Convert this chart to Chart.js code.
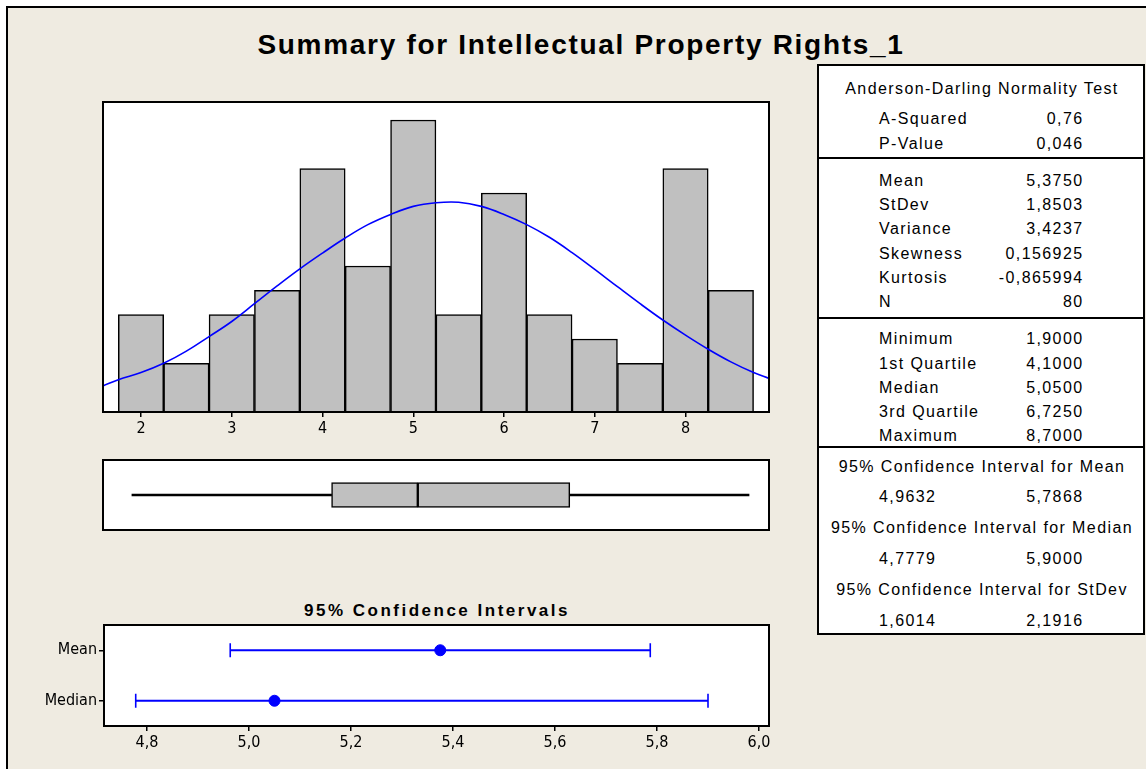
<!DOCTYPE html>
<html>
<head>
<meta charset="utf-8">
<script src="https://cdn.jsdelivr.net/npm/chart.js@4.4.1/dist/chart.umd.min.js"></script>
<style>
  html, body { margin:0; padding:0; background:#ffffff; }
  body { width:1146px; height:769px; position:relative; overflow:hidden; }
  #frame { position:absolute; left:6px; top:6px; width:1150px; height:770px; background:#EFEBE1;
           border-left:2px solid #000; border-top:2px solid #000; }
  canvas { position:absolute; }
  .title { position:absolute; left:0; top:28px; width:1162px; text-align:center;
           font-family:"Liberation Sans", Arial, sans-serif; font-weight:bold; font-size:28px; letter-spacing:1.7px; line-height:34px; color:#000; }
  .subtitle { position:absolute; left:237px; top:601px; width:400px; text-align:center;
           font-family:"Liberation Sans", Arial, sans-serif; font-weight:bold; font-size:17px; letter-spacing:2.5px; line-height:20px; color:#000; }
  #table { position:absolute; left:817px; top:64px; width:324px; height:567px; background:#fff; border:2px solid #000; }
  .sep { position:absolute; left:0; width:324px; height:0; border-top:2px solid #000; }
  .t { position:absolute; font-family:"Liberation Sans", Arial, sans-serif; font-size:16px; letter-spacing:1.4px;
       line-height:20px; height:20px; color:#000; white-space:nowrap; }
</style>
</head>
<body>
<div id="frame"></div>
<div class="title">Summary for Intellectual Property Rights_1</div>
<canvas id="hist" width="672" height="340" style="left:100px; top:100px;"></canvas>
<canvas id="box" width="672" height="74" style="left:100px; top:458px;"></canvas>
<div class="subtitle">95% Confidence Intervals</div>
<canvas id="ci" width="742" height="131" style="left:30px; top:623px;"></canvas>
<div id="table"></div>

<script>
// ---------------- data ----------------
const BIN_CENTERS = [2, 2.5, 3, 3.5, 4, 4.5, 5, 5.5, 6, 6.5, 7, 7.5, 8, 8.5];
const BIN_COUNTS  = [4, 2, 4, 5, 10, 6, 12, 4, 9, 4, 3, 2, 10, 5];
const CURVE_X = [1.58, 1.75, 2.0, 2.25, 2.5, 2.75, 3.0, 3.25, 3.5, 3.75, 4.0, 4.25, 4.5, 4.75, 5.0, 5.25,
                 5.5, 5.75, 6.0, 6.25, 6.5, 6.75, 7.0, 7.25, 7.5, 7.75, 8.0, 8.25, 8.5, 8.75, 8.92];
const CURVE_Y = [1.07, 1.33, 1.62, 2.0, 2.5, 3.1, 3.72, 4.45, 5.18, 5.88, 6.53, 7.15, 7.7, 8.12, 8.45, 8.6,
                 8.62, 8.45, 8.12, 7.7, 7.18, 6.55, 5.86, 5.15, 4.45, 3.78, 3.16, 2.58, 2.06, 1.62, 1.38];
const HIST_TICKS = [2, 3, 4, 5, 6, 7, 8];
const FIVE_NUM = [1.9, 4.1, 5.05, 6.725, 8.7]; // min, Q1, median, Q3, max
const CI_LABELS = ['Mean', 'Median'];
const CI_LOW    = [4.9632, 4.7779];
const CI_HIGH   = [5.7868, 5.9000];
const CI_POINT  = [5.375, 5.05];
const CI_TICKS  = [4.8, 5.0, 5.2, 5.4, 5.6, 5.8, 6.0];

const AD_ROWS    = [['A-Squared', '0,76'], ['P-Value', '0,046']];
const MOM_ROWS   = [['Mean', '5,3750'], ['StDev', '1,8503'], ['Variance', '3,4237'],
                    ['Skewness', '0,156925'], ['Kurtosis', '-0,865994'], ['N', '80']];
const QUANT_ROWS = [['Minimum', '1,9000'], ['1st Quartile', '4,1000'], ['Median', '5,0500'],
                    ['3rd Quartile', '6,7250'], ['Maximum', '8,7000']];
const CI_TABLE   = [['95% Confidence Interval for Mean', '4,9632', '5,7868'],
                    ['95% Confidence Interval for Median', '4,7779', '5,9000'],
                    ['95% Confidence Interval for StDev', '1,6014', '2,1916']];

// ---------------- helpers ----------------
const NARROW = '"Liberation Sans Narrow", "DejaVu Sans Condensed", "Arial Narrow", sans-serif';
Chart.defaults.font.family = NARROW;
Chart.defaults.color = '#000';
const comma = v => String(v).replace('.', ',');

const plotBox = {
  id: 'plotBox',
  beforeDatasetsDraw(chart) {
    const a = chart.chartArea, c = chart.ctx;
    c.save(); c.fillStyle = '#fff'; c.fillRect(a.left, a.top, a.right - a.left, a.bottom - a.top); c.restore();
  },
  afterDraw(chart) {
    const a = chart.chartArea, c = chart.ctx;
    c.save(); c.strokeStyle = '#000'; c.lineWidth = 2;
    c.strokeRect(a.left, a.top, a.right - a.left, a.bottom - a.top); c.restore();
  }
};

const HX_MIN = 1.5813, HX_MAX = 8.920;
const common = { responsive:false, animation:false, devicePixelRatio:1,
  plugins:{ legend:{display:false}, tooltip:{enabled:false} } };

// ---------------- histogram ----------------
new Chart(document.getElementById('hist'), {
  type: 'bar',
  data: {
    datasets: [
      { type:'line', order:1, data: CURVE_X.map((x, i) => ({x, y: CURVE_Y[i]})),
        borderColor:'#0000FF', borderWidth:1.6, pointRadius:0, tension:0.4, fill:false },
      { type:'bar', order:2, data: BIN_CENTERS.map((x, i) => ({x, y: BIN_COUNTS[i]})),
        backgroundColor:'#C0C0C0', borderColor:'#000', borderWidth:1.5,
        barPercentage:1, categoryPercentage:1 }
    ]
  },
  options: { ...common,
    layout:{ autoPadding:false, padding:{ left:3, right:3, top:2, bottom:0 } },
    scales: {
      x: { type:'linear', min:HX_MIN, max:HX_MAX, offset:false,
           afterBuildTicks: s => { s.ticks = HIST_TICKS.map(v => ({value:v})); },
           afterFit: s => { s.height = 28; s.paddingLeft = 0; s.paddingRight = 0; },
           ticks:{ font:{size:16}, padding:2, maxRotation:0, autoSkip:false, callback: v => comma(v) },
           grid:{ offset:false, drawOnChartArea:false, drawTicks:true, tickLength:5, color:'#000', lineWidth:1.5 },
           border:{ display:false } },
      y: { display:false, min:0, max:12.74 }
    }
  },
  plugins:[plotBox]
});

// ---------------- boxplot ----------------
new Chart(document.getElementById('box'), {
  type: 'bar',
  data: {
    labels: [''],
    datasets: [
      { data:[[FIVE_NUM[0], FIVE_NUM[1]]], backgroundColor:'#000', borderWidth:0, barThickness:1.6, grouped:false },
      { data:[[FIVE_NUM[3], FIVE_NUM[4]]], backgroundColor:'#000', borderWidth:0, barThickness:1.6, grouped:false },
      { data:[[FIVE_NUM[1], FIVE_NUM[2]]], backgroundColor:'#C0C0C0', borderColor:'#000', borderWidth:1.5,
        borderSkipped:false, barThickness:25, grouped:false },
      { data:[[FIVE_NUM[2], FIVE_NUM[3]]], backgroundColor:'#C0C0C0', borderColor:'#000', borderWidth:1.5,
        borderSkipped:false, barThickness:25, grouped:false }
    ]
  },
  options: { ...common, indexAxis:'y',
    layout:{ autoPadding:false, padding:{ left:3, right:3, top:2, bottom:2 } },
    scales: {
      x: { type:'linear', display:false, min:HX_MIN, max:HX_MAX },
      y: { display:false }
    }
  },
  plugins:[plotBox]
});

// ---------------- confidence intervals ----------------
const CX_MIN = 4.7157, CX_MAX = 6.0196;
const ciDatasets = CI_LABELS.map((lab, i) => ({
  data:[{x:CI_LOW[i], y:lab}, {x:CI_HIGH[i], y:lab}],
  borderColor:'#0000FF', borderWidth:2, pointStyle:'line', pointRadius:7, pointRotation:90,
  pointBorderColor:'#0000FF', pointBorderWidth:1.6, tension:0
}));
ciDatasets.push({
  data: CI_LABELS.map((lab, i) => ({x:CI_POINT[i], y:lab})),
  showLine:false, pointRadius:5.5, pointBackgroundColor:'#0000FF', pointBorderColor:'#0000FF', pointBorderWidth:1
});
new Chart(document.getElementById('ci'), {
  type: 'line',
  data: { labels: CI_LABELS, datasets: ciDatasets },
  options: { ...common,
    layout:{ autoPadding:false, padding:{ left:0, right:3, top:2, bottom:0 } },
    scales: {
      x: { type:'linear', min:CX_MIN, max:CX_MAX,
           afterBuildTicks: s => { s.ticks = CI_TICKS.map(v => ({value:v})); },
           afterFit: s => { s.height = 28; s.paddingLeft = 0; s.paddingRight = 0; },
           ticks:{ font:{size:16}, padding:2, maxRotation:0, autoSkip:false, callback: v => comma(v.toFixed(1)) },
           grid:{ offset:false, drawOnChartArea:false, drawTicks:true, tickLength:5, color:'#000', lineWidth:1.5 },
           border:{ display:false } },
      y: { type:'category', labels: CI_LABELS, offset:true,
           afterFit: s => { s.width = 74; s.paddingTop = 0; s.paddingBottom = 0; },
           ticks:{ font:{size:16}, padding:2 },
           grid:{ drawOnChartArea:false, drawTicks:true, tickLength:5, color:'#000', lineWidth:1.5, offset:false },
           border:{ display:false } }
    }
  },
  plugins:[plotBox]
});

// ---------------- statistics table ----------------
(function buildTable(){
  const T = document.getElementById('table');
  const OX = 817 + 2, OY = 64 + 2; // inner origin
  const LABEL_X = 879, VALUE_R = 1083.5;
  function text(str, cy, opts) {
    const d = document.createElement('div');
    d.className = 't';
    d.textContent = str;
    d.style.top = (cy - 10 - OY) + 'px';
    if (opts.center) { d.style.left = '1px'; d.style.width = '324px'; d.style.textAlign = 'center'; }
    else if (opts.right) { d.style.right = (817 + 2 + 324 - VALUE_R) + 'px'; d.style.textAlign = 'right'; }
    else { d.style.left = (LABEL_X - OX) + 'px'; }
    T.appendChild(d);
  }
  function sep(y) { const s = document.createElement('div'); s.className = 'sep'; s.style.top = (y - 1 - OY) + 'px'; T.appendChild(s); }
  text('Anderson-Darling Normality Test', 89, {center:true});
  [119, 144].forEach((cy, i) => { text(AD_ROWS[i][0], cy, {}); text(AD_ROWS[i][1], cy, {right:true}); });
  sep(158);
  [181, 205, 229, 254, 278, 302].forEach((cy, i) => { text(MOM_ROWS[i][0], cy, {}); text(MOM_ROWS[i][1], cy, {right:true}); });
  sep(318);
  [339, 364, 388, 412, 436].forEach((cy, i) => { text(QUANT_ROWS[i][0], cy, {}); text(QUANT_ROWS[i][1], cy, {right:true}); });
  sep(447);
  [[467, 497], [528, 559], [590, 621]].forEach((p, i) => {
    text(CI_TABLE[i][0], p[0], {center:true});
    text(CI_TABLE[i][1], p[1], {});
    text(CI_TABLE[i][2], p[1], {right:true});
  });
})();
</script>
</body>
</html>
